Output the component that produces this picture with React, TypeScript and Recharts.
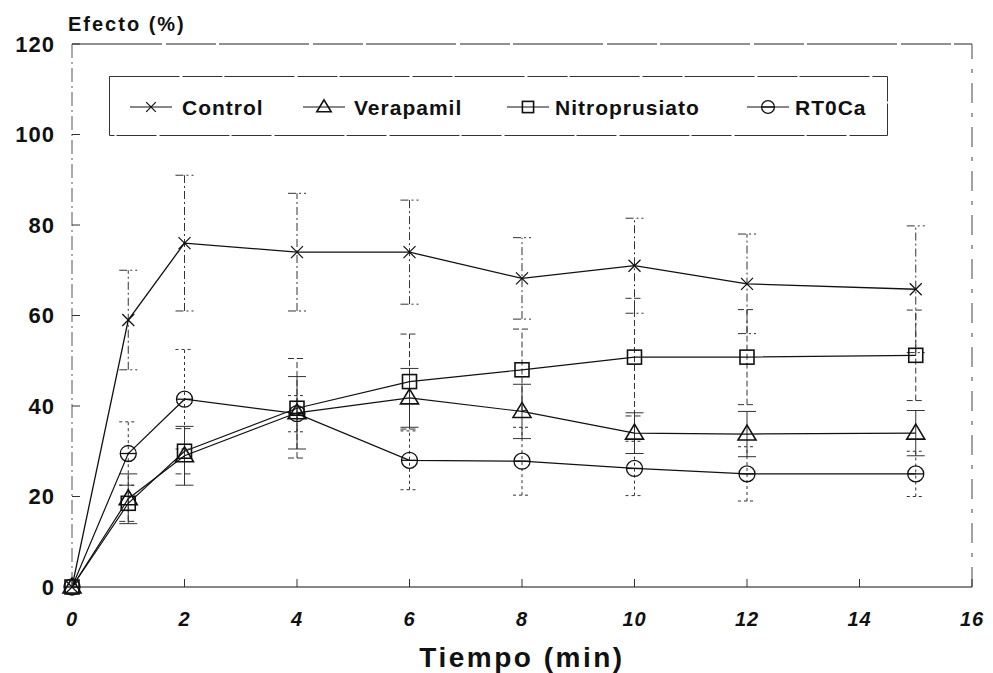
import { LineChart, Line, XAxis, YAxis, ErrorBar, ReferenceLine, Legend, Label } from 'recharts'

// tiempo (min)
const times = [0, 1, 2, 4, 6, 8, 10, 12, 15]

// efecto medio (%)
const control = [0, 59, 76, 74, 74, 68.2, 71, 67, 65.8]
const verapamil = [0, 19.5, 29, 38.5, 41.8, 38.8, 34, 33.8, 34]
const nitroprusiato = [0, 18.5, 30, 39.5, 45.4, 48, 50.8, 50.8, 51.2]
const rt0ca = [0, 29.5, 41.5, 38.3, 28, 27.8, 26.2, 25, 25]

// error estándar
const controlErr = [0, 11, 15, 13, 11.5, 9, 10.5, 11, 14]
const verapamilErr = [0, 5.5, 6.5, 8, 6.5, 6, 4.5, 5, 5]
const nitroprusiatoErr = [0, 4, 5, 11, 10.5, 9, 13, 10.5, 10]
const rt0caErr = [0, 7, 11, 4, 6.5, 7.5, 6, 6, 5]

const xTicks = [0, 2, 4, 6, 8, 10, 12, 14, 16]
const yTicks = [0, 20, 40, 60, 80, 100, 120]

const seriesNames = ['Control', 'Verapamil', 'Nitroprusiato', 'RT0Ca']

const data = times.map((t, i) => ({
  t,
  control: control[i],
  controlErr: controlErr[i],
  verapamil: verapamil[i],
  verapamilErr: verapamilErr[i],
  nitroprusiato: nitroprusiato[i],
  nitroprusiatoErr: nitroprusiatoErr[i],
  rt0ca: rt0ca[i],
  rt0caErr: rt0caErr[i],
}))

const INK = '#111'
const FONT = '"Liberation Sans", Arial, sans-serif'

type Shape = 'x' | 'triangle' | 'square' | 'circle'

function Marker({ shape, cx, cy, small }: { shape: Shape; cx: number; cy: number; small?: boolean }) {
  if (cx == null || cy == null) return null
  const k = small ? 0.8 : 1
  if (shape === 'x') {
    return (
      <g stroke={INK} strokeWidth={1.2}>
        <line x1={cx - 6 * k} y1={cy - 6 * k} x2={cx + 6 * k} y2={cy + 6 * k} />
        <line x1={cx - 6 * k} y1={cy + 6 * k} x2={cx + 6 * k} y2={cy - 6 * k} />
      </g>
    )
  }
  if (shape === 'triangle') {
    return (
      <polygon
        points={`${cx},${cy - 9 * k} ${cx + 9 * k},${cy + 6 * k} ${cx - 9 * k},${cy + 6 * k}`}
        fill="none"
        stroke={INK}
        strokeWidth={1.6}
      />
    )
  }
  if (shape === 'square') {
    return (
      <rect x={cx - 7 * k} y={cy - 7 * k} width={14 * k} height={14 * k} fill="none" stroke={INK} strokeWidth={1.6} />
    )
  }
  return (
    <g stroke={INK} strokeWidth={1.3} fill="none">
      <circle cx={cx} cy={cy} r={8 * k} />
      <line x1={cx - 8 * k} y1={cy} x2={cx + 8 * k} y2={cy} />
    </g>
  )
}

const dotFor = (shape: Shape) => (props: any) => (
  <Marker key={`${shape}-${props.index}`} shape={shape} cx={props.cx} cy={props.cy} />
)

const shapes: Shape[] = ['x', 'triangle', 'square', 'circle']
const legendSampleX = [21, 194, 398, 638]
const legendTextX = [73, 245, 446, 686]

function LegendBox() {
  return (
    <svg width={779} height={60} style={{ display: 'block' }}>
      <rect x={0.5} y={0.5} width={778} height={59} fill="white" stroke="#333" strokeWidth={1} strokeDasharray="70 3 40 2" />
      {seriesNames.map((name, i) => (
        <g key={name}>
          <line x1={legendSampleX[i]} y1={31} x2={legendSampleX[i] + 42} y2={31} stroke={INK} strokeWidth={1.2} />
          <Marker shape={shapes[i]} cx={legendSampleX[i] + 21} cy={31} small />
          <text
            x={legendTextX[i]}
            y={39}
            fontFamily={FONT}
            fontWeight={700}
            fontSize={21}
            letterSpacing={1}
            fill={INK}
          >
            {name}
          </text>
        </g>
      ))}
    </svg>
  )
}

export default function App() {
  const tickStyle = { fill: INK, fontSize: 22, fontWeight: 700, fontFamily: FONT, letterSpacing: 1 }
  return (
    <div style={{ position: 'absolute', left: 0, top: 0, background: 'white' }}>
      <LineChart width={993} height={673} data={data} margin={{ top: 44, right: 21, bottom: 0, left: 12 }}>
        <XAxis
          dataKey="t"
          type="number"
          domain={[0, 16]}
          ticks={xTicks}
          interval={0}
          height={86}
          tickSize={-8}
          tickMargin={33}
          axisLine={{ stroke: INK, strokeWidth: 1.2 }}
          tickLine={{ stroke: '#333' }}
          tick={{ ...tickStyle, fontSize: 20, fontStyle: 'italic' }}
        >
          <Label
            value="Tiempo (min)"
            position="insideBottom"
            offset={6}
            style={{ fontFamily: FONT, fontSize: 28, fontWeight: 700, letterSpacing: 2.5, fill: INK }}
          />
        </XAxis>
        <YAxis
          type="number"
          domain={[0, 120]}
          ticks={yTicks}
          interval={0}
          width={60}
          tickSize={-8}
          tickMargin={25}
          axisLine={{ stroke: '#555', strokeDasharray: '14 4 2 4' }}
          tickLine={{ stroke: '#333' }}
          tick={tickStyle}
        >
          <Label
            content={() => (
              <text x={68} y={31} fontFamily={FONT} fontWeight={700} fontSize={20} letterSpacing={2} fill={INK}>
                Efecto (%)
              </text>
            )}
          />
        </YAxis>
        <ReferenceLine y={120} stroke="#222" strokeDasharray="90 4 50 3" />
        <ReferenceLine x={16} stroke="#444" strokeDasharray="20 10 4 10" />
        <Legend
          verticalAlign="middle"
          align="center"
          layout="horizontal"
          wrapperStyle={{ left: 109, top: 76, width: 779, height: 60 }}
          content={() => <LegendBox />}
        />
        <Line dataKey="control" stroke={INK} strokeWidth={1.3} dot={dotFor('x')} isAnimationActive={false}>
          <ErrorBar dataKey="controlErr" width={9} stroke="#333" strokeWidth={1} strokeDasharray="8 3 2 3" />
        </Line>
        <Line dataKey="verapamil" stroke={INK} strokeWidth={1.2} dot={dotFor('triangle')} isAnimationActive={false}>
          <ErrorBar dataKey="verapamilErr" width={9} stroke="#333" strokeWidth={1} />
        </Line>
        <Line dataKey="nitroprusiato" stroke={INK} strokeWidth={1.2} dot={dotFor('square')} isAnimationActive={false}>
          <ErrorBar dataKey="nitroprusiatoErr" width={9} stroke="#333" strokeWidth={1} strokeDasharray="6 3" />
        </Line>
        <Line dataKey="rt0ca" stroke={INK} strokeWidth={1.2} dot={dotFor('circle')} isAnimationActive={false}>
          <ErrorBar dataKey="rt0caErr" width={9} stroke="#333" strokeWidth={1} strokeDasharray="3 3" />
        </Line>
      </LineChart>
    </div>
  )
}
